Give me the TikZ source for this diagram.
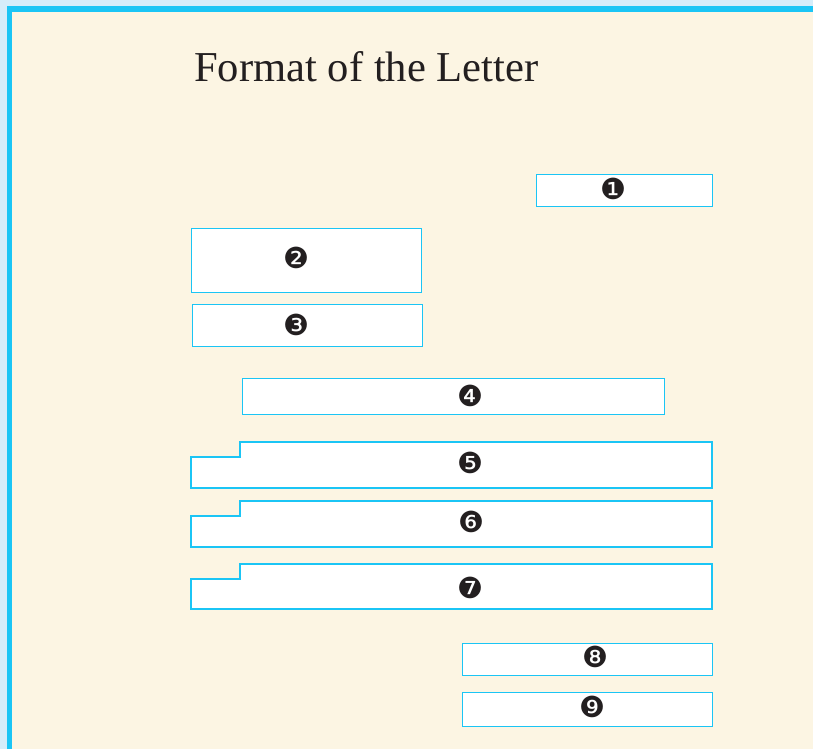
\documentclass[tikz,border=0pt]{standalone}
\usepackage{fontspec}
\setmainfont{Liberation Serif}
\newfontfamily\dingfont{DejaVu Sans}
\definecolor{outerblue}{HTML}{D5EDFA}
\definecolor{framecyan}{HTML}{1BC5F5}
\definecolor{cream}{HTML}{FCF5E3}
\definecolor{ink}{HTML}{231F20}
\tikzset{
  fieldbox/.style={draw=framecyan, line width=1.2pt, fill=white, inner sep=0pt, anchor=north west},
  numlabel/.style={font=\dingfont\fontsize{29}{29}\selectfont, text=ink, inner sep=0pt},
  steppath/.style={draw=framecyan, line width=1.2pt, fill=white, line join=miter}
}
\begin{document}
\begin{tikzpicture}[x=1pt,y=-1pt]
\useasboundingbox (0,0) rectangle (813,749);
\fill[outerblue] (0,0) rectangle (813,749);
\fill[framecyan] (7,6) rectangle (813,749);
\fill[cream] (12,12) rectangle (813,749);

\node[anchor=base west, inner sep=0pt, font=\fontsize{42.6}{42.6}\selectfont, text=ink] (title) at (194,82) {Format of the Letter};

% simple boxes
\node[fieldbox, minimum width=176pt, minimum height=32pt] (b1) at (536,174) {};
\node[fieldbox, minimum width=230pt, minimum height=64pt] (b2) at (191,228) {};
\node[fieldbox, minimum width=230pt, minimum height=42pt] (b3) at (192,304) {};
\node[fieldbox, minimum width=422pt, minimum height=36pt] (b4) at (242,378) {};
\node[fieldbox, minimum width=250pt, minimum height=32pt] (b8) at (462,643) {};
\node[fieldbox, minimum width=250pt, minimum height=34pt] (b9) at (462,692) {};

% stepped boxes
\path[steppath] (191,488) -- (191,457) -- (240,457) -- (240,442) -- (712,442) -- (712,488) -- cycle;
\path[steppath] (191,547) -- (191,516) -- (240,516) -- (240,501) -- (712,501) -- (712,547) -- cycle;
\path[steppath] (191,609) -- (191,579) -- (240,579) -- (240,564) -- (712,564) -- (712,609) -- cycle;

% labels
\node[numlabel] (n1) at (613,189) {❶};
\node[numlabel] (n2) at (296,258) {❷};
\node[numlabel] (n3) at (296,325) {❸};
\node[numlabel] (n4) at (470,396) {❹};
\node[numlabel] (n5) at (470,463) {❺};
\node[numlabel] (n6) at (471,522) {❻};
\node[numlabel] (n7) at (470,588) {❼};
\node[numlabel] (n8) at (595,657) {❽};
\node[numlabel] (n9) at (592,707) {❾};
\end{tikzpicture}
\end{document}
